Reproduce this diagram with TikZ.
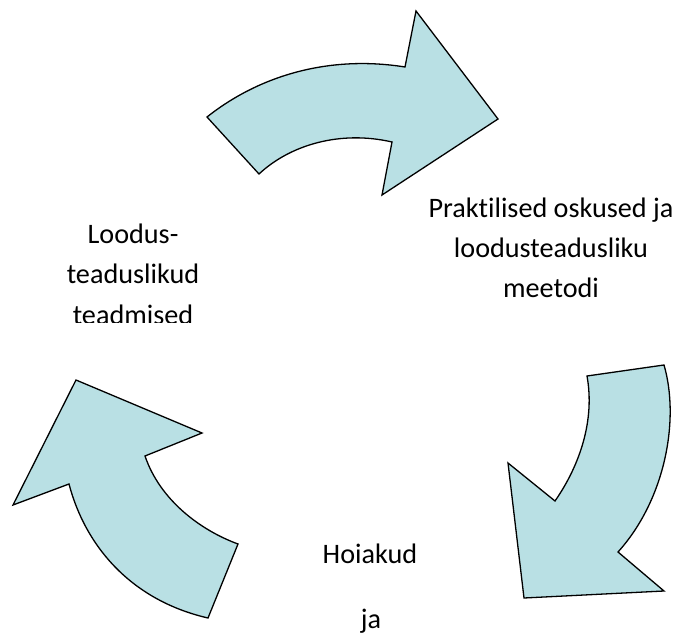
\documentclass[tikz,border=0pt]{standalone}
\usepackage{fontspec}
\setmainfont{Carlito}[Ligatures={NoCommon}]
\definecolor{arrowfill}{RGB}{185,224,228}
\begin{document}
\begin{tikzpicture}[x=1pt,y=-1pt,
  bigarrow/.style={fill=arrowfill,draw=black,line width=1.3pt,line join=miter},
  lbl/.style={font=\fontsize{28.2}{40}\selectfont,align=center,inner sep=0pt,anchor=base}]
\useasboundingbox (0,0) rectangle (690,639);
% top arrow
\draw[bigarrow] (207,117) .. controls (260,75) and (330,55) .. (405,67)
  -- (416,11) -- (498,119) -- (382,195) -- (392,142)
  .. controls (340,130) and (290,145) .. (259,174) -- cycle;
% right arrow
\draw[bigarrow] (587,376) -- (664,365)
  .. controls (680,420) and (665,500) .. (618,552)
  -- (664,591) -- (524,598) -- (508,463) -- (555,501)
  .. controls (580,465) and (595,420) .. (587,376) -- cycle;
% left arrow
\draw[bigarrow] (76,380) -- (202,433) -- (145,456)
  .. controls (160,500) and (200,530) .. (238,544)
  -- (208,618)
  .. controls (130,600) and (85,545) .. (69,484)
  -- (13,505) -- cycle;
% texts
\node[lbl] (p1) at (551,217) {Praktilised oskused ja};
\node[lbl] (p2) at (551,257) {loodusteadusliku};
\node[lbl] (p3) at (551,297) {meetodi};
\node[lbl] (l1) at (133,243) {Loodus-};
\node[lbl] (l2) at (133,283) {teaduslikud};
\begin{scope}
\clip (0,0) rectangle (690,322.5);
\node[lbl] (l3) at (133,324) {teadmised};
\end{scope}
\node[lbl] (h1) at (370,563) {Hoiakud};
\node[lbl] (h2) at (371,628) {ja};
\end{tikzpicture}
\end{document}
